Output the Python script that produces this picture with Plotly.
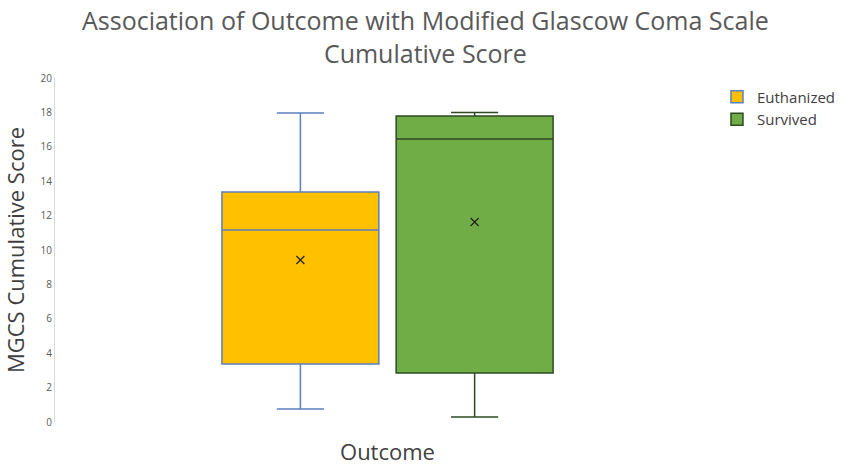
import plotly.graph_objects as go

groups = ["Euthanized", "Survived"]
q1 = [3.37, 2.85]
median = [11.16, 16.45]
q3 = [13.37, 17.79]
lower = [0.76, 0.29]
upper = [17.97, 18.0]
means = [9.42, 11.63]
fills = ["#FFC000", "#70AD47"]
lines = ["#5B7FBF", "#2E4A22"]
yticks = [0, 2, 4, 6, 8, 10, 12, 14, 16, 18, 20]
title_text = "Association of Outcome with Modified Glascow Coma Scale<br>Cumulative Score"

FONT = "Open Sans"
W, H = 850, 467
ML, MR, MT, MB = 55, 130, 78, 45
n = len(groups)
spacing = 0.262
positions = [(i - (n - 1) / 2) * spacing for i in range(n)]

fig = go.Figure()
for i, g in enumerate(groups):
    fig.add_trace(go.Box(
        name=g, x=[positions[i]], q1=[q1[i]], median=[median[i]], q3=[q3[i]],
        lowerfence=[lower[i]], upperfence=[upper[i]],
        fillcolor=fills[i], line=dict(color=lines[i], width=1.5),
        width=0.236, whiskerwidth=0.3, boxpoints=False, showlegend=True,
    ))
for i, g in enumerate(groups):
    fig.add_trace(go.Scatter(
        x=[positions[i]], y=[means[i]], mode="markers", showlegend=False,
        marker=dict(symbol="x-thin", size=8, line=dict(color="#222222", width=1.2)),
    ))

fig.add_annotation(
    text=title_text, xref="paper", yref="paper",
    x=(W / 2 - ML) / (W - ML - MR), y=1.0, xanchor="center", yanchor="bottom",
    yshift=6, showarrow=False, align="center",
    font=dict(size=25, color="#595959", family=FONT),
)

fig.update_layout(
    width=W, height=H,
    margin=dict(l=ML, r=MR, t=MT, b=MB, autoexpand=False),
    paper_bgcolor="white", plot_bgcolor="white",
    font=dict(family=FONT, color="#595959"),
    legend=dict(xref="container", yref="container", x=0.8435, xanchor="left",
                y=0.8276, yanchor="top",
                font=dict(size=15, color="#404040", family=FONT),
                bgcolor="rgba(0,0,0,0)", itemwidth=30),
    showlegend=True,
)
fig.update_xaxes(range=[-0.5, 0.5], showticklabels=False, showgrid=False,
                 zeroline=False, showline=False, automargin=False,
                 title=dict(text="Outcome", font=dict(size=22, color="#404040"), standoff=22))
fig.update_yaxes(range=[0, 20], tickvals=yticks, showgrid=False, zeroline=False,
                 showline=True, linecolor="#D9D9D9", linewidth=1, automargin=False,
                 tickfont=dict(size=10, color="#595959"), ticks="",
                 title=dict(text="MGCS Cumulative Score", font=dict(size=22, color="#404040"), standoff=17))

fig.write_html("out.html", config={"displayModeBar": False},
               post_script="document.body.style.margin='0';")
